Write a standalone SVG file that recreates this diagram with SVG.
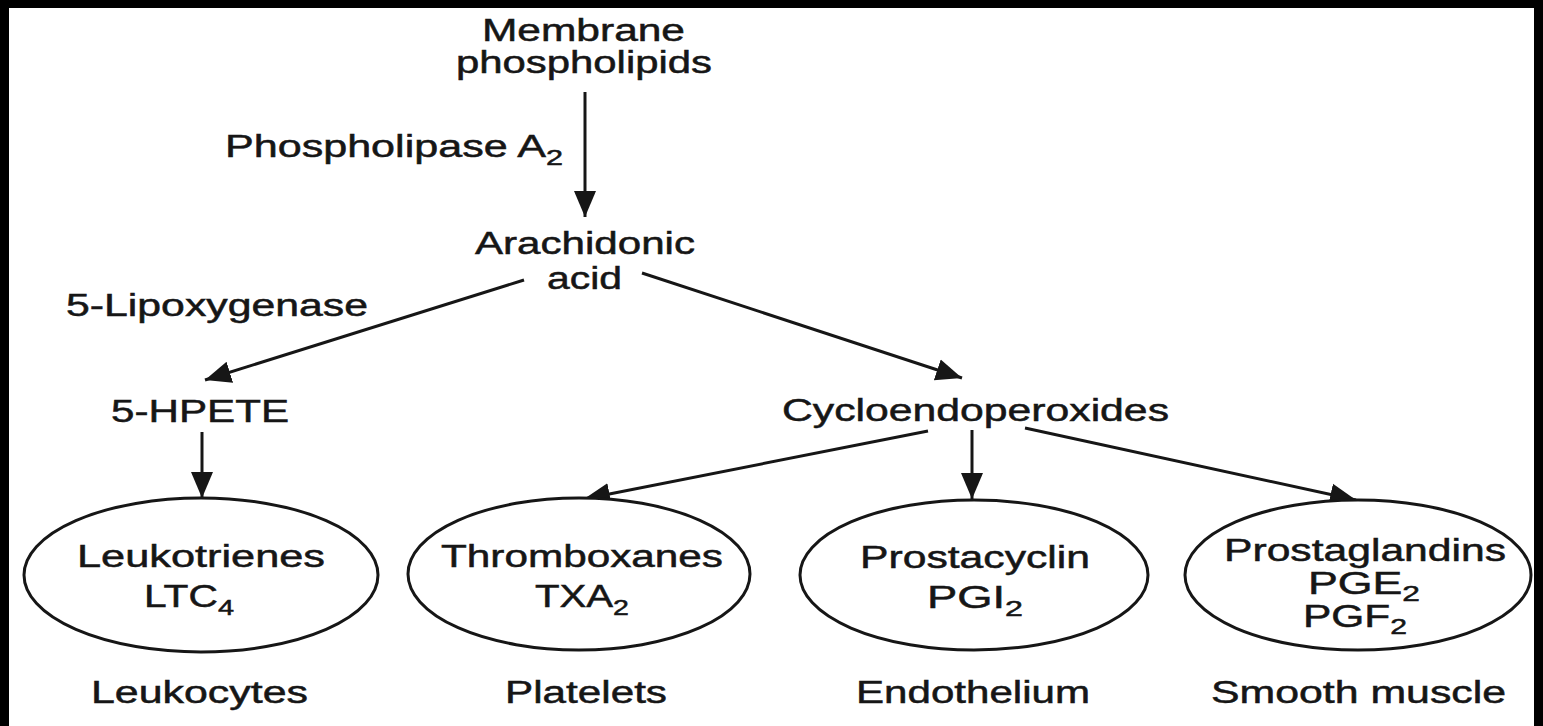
<svg xmlns="http://www.w3.org/2000/svg" width="1543" height="726" viewBox="0 0 1543 726">
<style>
  text { font-family: "Liberation Sans", Arial, sans-serif; font-size: 31px; fill: #161616; stroke: #161616; stroke-width: 0.5; }
  .sub { font-size: 22px; }
  .conn line { stroke: #161616; stroke-width: 3; fill: none; }
  .node ellipse { fill: #ffffff; stroke: #161616; stroke-width: 3; }
</style>
<defs>
  <marker id="arr" markerUnits="userSpaceOnUse" markerWidth="28" markerHeight="26" refX="26" refY="13" orient="auto" viewBox="0 0 28 26">
    <path d="M0,2 L26,13 L0,24 z" fill="#161616"/>
  </marker>
</defs>
<rect x="0" y="0" width="1543" height="726" fill="#ffffff"/>
<rect x="0" y="0" width="1543" height="8" fill="#000000"/>
<rect x="0" y="0" width="9" height="726" fill="#000000"/>
<rect x="1534" y="0" width="9" height="726" fill="#000000"/>

<g id="connectors" class="conn">
  <line x1="585" y1="92" x2="585" y2="217" marker-end="url(#arr)"/>
  <line x1="524" y1="280" x2="205" y2="380" marker-end="url(#arr)"/>
  <line x1="642" y1="273" x2="962" y2="378" marker-end="url(#arr)"/>
  <line x1="202" y1="432" x2="202" y2="498" marker-end="url(#arr)"/>
  <line x1="928" y1="431" x2="584" y2="499" marker-end="url(#arr)"/>
  <line x1="972" y1="430" x2="972" y2="499" marker-end="url(#arr)"/>
  <line x1="1025" y1="428" x2="1356" y2="500" marker-end="url(#arr)"/>
</g>

<g id="membrane-phospholipids">
  <text x="482" y="41" textLength="203" lengthAdjust="spacingAndGlyphs">Membrane</text>
  <text x="456" y="73" textLength="256" lengthAdjust="spacingAndGlyphs">phospholipids</text>
</g>
<g id="phospholipase-label">
  <text x="225" y="157" textLength="338" lengthAdjust="spacingAndGlyphs">Phospholipase A<tspan class="sub" dy="8">2</tspan></text>
</g>
<g id="arachidonic-acid">
  <text x="475" y="254" textLength="220" lengthAdjust="spacingAndGlyphs">Arachidonic</text>
  <text x="547" y="289" textLength="75" lengthAdjust="spacingAndGlyphs">acid</text>
</g>
<g id="lipoxygenase-label">
  <text x="66" y="316" textLength="302" lengthAdjust="spacingAndGlyphs">5-Lipoxygenase</text>
</g>
<g id="hpete">
  <text x="111" y="422" textLength="178" lengthAdjust="spacingAndGlyphs">5-HPETE</text>
</g>
<g id="cycloendoperoxides">
  <text x="782" y="421" textLength="387" lengthAdjust="spacingAndGlyphs">Cycloendoperoxides</text>
</g>

<g id="leukotrienes" class="node">
  <ellipse cx="201" cy="575" rx="177" ry="77"/>
  <text x="77" y="567" textLength="248" lengthAdjust="spacingAndGlyphs">Leukotrienes</text>
  <text x="144" y="607" textLength="90" lengthAdjust="spacingAndGlyphs">LTC<tspan class="sub" dy="8">4</tspan></text>
</g>
<g id="thromboxanes" class="node">
  <ellipse cx="579" cy="574" rx="171" ry="76"/>
  <text x="441" y="567" textLength="282" lengthAdjust="spacingAndGlyphs">Thromboxanes</text>
  <text x="535" y="607" textLength="94" lengthAdjust="spacingAndGlyphs">TXA<tspan class="sub" dy="8">2</tspan></text>
</g>
<g id="prostacyclin" class="node">
  <ellipse cx="974" cy="575" rx="174" ry="75"/>
  <text x="860" y="568" textLength="230" lengthAdjust="spacingAndGlyphs">Prostacyclin</text>
  <text x="927" y="608" textLength="96" lengthAdjust="spacingAndGlyphs">PGI<tspan class="sub" dy="8">2</tspan></text>
</g>
<g id="prostaglandins" class="node">
  <ellipse cx="1358" cy="575" rx="173" ry="75"/>
  <text x="1224" y="561" textLength="282" lengthAdjust="spacingAndGlyphs">Prostaglandins</text>
  <text x="1308" y="594" textLength="112" lengthAdjust="spacingAndGlyphs">PGE<tspan class="sub" dy="7">2</tspan></text>
  <text x="1303" y="627" textLength="104" lengthAdjust="spacingAndGlyphs">PGF<tspan class="sub" dy="7">2</tspan></text>
</g>

<g id="leukocytes">
  <text x="91" y="703" textLength="217" lengthAdjust="spacingAndGlyphs">Leukocytes</text>
</g>
<g id="platelets">
  <text x="505" y="703" textLength="162" lengthAdjust="spacingAndGlyphs">Platelets</text>
</g>
<g id="endothelium">
  <text x="856" y="703" textLength="234" lengthAdjust="spacingAndGlyphs">Endothelium</text>
</g>
<g id="smooth-muscle">
  <text x="1211" y="703" textLength="295" lengthAdjust="spacingAndGlyphs">Smooth muscle</text>
</g>
</svg>
